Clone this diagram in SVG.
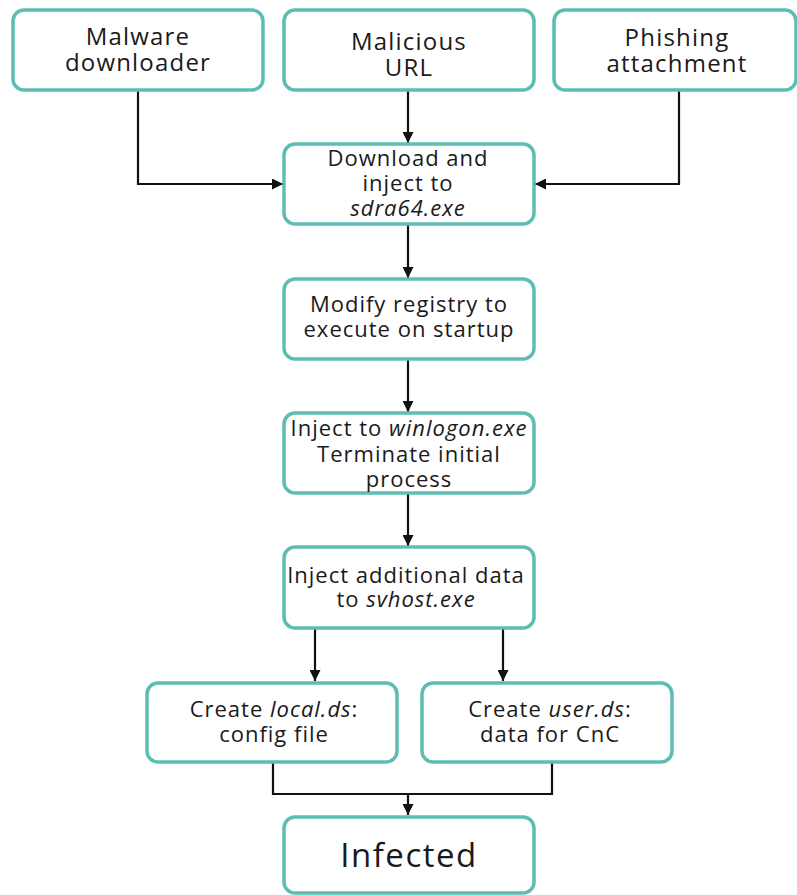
<svg xmlns="http://www.w3.org/2000/svg" width="797" height="895" viewBox="0 0 797 895">
  <style>
    .box { fill: #ffffff; stroke: #5dbdb3; stroke-width: 3.5; }
    .lbl { font-family: "Open Sans", "Noto Sans", "DejaVu Sans", sans-serif; font-size: 22px; fill: #1a1a1a; text-anchor: middle; letter-spacing: 1px; }
    .top { font-size: 24px; letter-spacing: 1.2px; }
    .big { font-size: 33px; letter-spacing: 1.5px; }
    .it { font-style: italic; }
    .wire { fill: none; stroke: #111111; stroke-width: 2.2; }
  </style>
  <defs>
    <marker id="arrow" viewBox="0 0 10 10" refX="10" refY="5" markerWidth="11" markerHeight="11" markerUnits="userSpaceOnUse" orient="auto">
      <path d="M0,0 L10,5 L0,10 Z" fill="#111111"/>
    </marker>
  </defs>
  <rect width="797" height="895" fill="#ffffff"/>

  <!-- connectors -->
  <g id="connectors" class="wire">
    <polyline points="138,90 138,184 283,184" marker-end="url(#arrow)"/>
    <line x1="408" y1="90" x2="408" y2="143" marker-end="url(#arrow)"/>
    <polyline points="679,90 679,184 535,184" marker-end="url(#arrow)"/>
    <line x1="408" y1="224" x2="408" y2="278" marker-end="url(#arrow)"/>
    <line x1="408" y1="359" x2="408" y2="412" marker-end="url(#arrow)"/>
    <line x1="408" y1="493" x2="408" y2="546" marker-end="url(#arrow)"/>
    <line x1="315" y1="628" x2="315" y2="681" marker-end="url(#arrow)"/>
    <line x1="503" y1="628" x2="503" y2="681" marker-end="url(#arrow)"/>
    <polyline points="273,762 273,794 552,794 552,762"/>
    <line x1="408" y1="794" x2="408" y2="815" marker-end="url(#arrow)"/>
  </g>

  <g id="malware-downloader">
    <rect class="box" x="13" y="10" width="250" height="80" rx="11"/>
    <text class="lbl top" x="138" y="45">Malware</text>
    <text class="lbl top" x="138" y="71">downloader</text>
  </g>

  <g id="malicious-url">
    <rect class="box" x="284" y="10" width="250" height="80" rx="11"/>
    <text class="lbl top" x="409" y="50">Malicious</text>
    <text class="lbl top" x="409" y="76">URL</text>
  </g>

  <g id="phishing-attachment">
    <rect class="box" x="554" y="10" width="242" height="80" rx="11"/>
    <text class="lbl top" x="677" y="46">Phishing</text>
    <text class="lbl top" x="677" y="72">attachment</text>
  </g>

  <g id="download-inject">
    <rect class="box" x="284" y="144" width="250" height="80" rx="11"/>
    <text class="lbl" x="408" y="166">Download and</text>
    <text class="lbl" x="408" y="191">inject to</text>
    <text class="lbl it" x="408" y="216">sdra64.exe</text>
  </g>

  <g id="modify-registry">
    <rect class="box" x="284" y="279" width="250" height="80" rx="11"/>
    <text class="lbl" x="409" y="312">Modify registry to</text>
    <text class="lbl" x="409" y="337">execute on startup</text>
  </g>

  <g id="inject-winlogon">
    <rect class="box" x="284" y="413" width="250" height="80" rx="11"/>
    <text class="lbl" x="409" y="436">Inject to <tspan class="it">winlogon.exe</tspan></text>
    <text class="lbl" x="409" y="462">Terminate initial</text>
    <text class="lbl" x="409" y="487">process</text>
  </g>

  <g id="inject-svhost">
    <rect class="box" x="284" y="547" width="250" height="81" rx="11"/>
    <text class="lbl" x="406" y="583">Inject additional data</text>
    <text class="lbl" x="406" y="607">to <tspan class="it">svhost.exe</tspan></text>
  </g>

  <g id="create-local">
    <rect class="box" x="147" y="683" width="250" height="79" rx="11"/>
    <text class="lbl" x="274" y="717">Create <tspan class="it">local.ds</tspan>:</text>
    <text class="lbl" x="274" y="742">config file</text>
  </g>

  <g id="create-user">
    <rect class="box" x="422" y="683" width="250" height="79" rx="11"/>
    <text class="lbl" x="550" y="717">Create <tspan class="it">user.ds</tspan>:</text>
    <text class="lbl" x="550" y="742">data for CnC</text>
  </g>

  <g id="infected">
    <rect class="box" x="284" y="817" width="250" height="76" rx="11"/>
    <text class="lbl big" x="409" y="867">Infected</text>
  </g>
</svg>
